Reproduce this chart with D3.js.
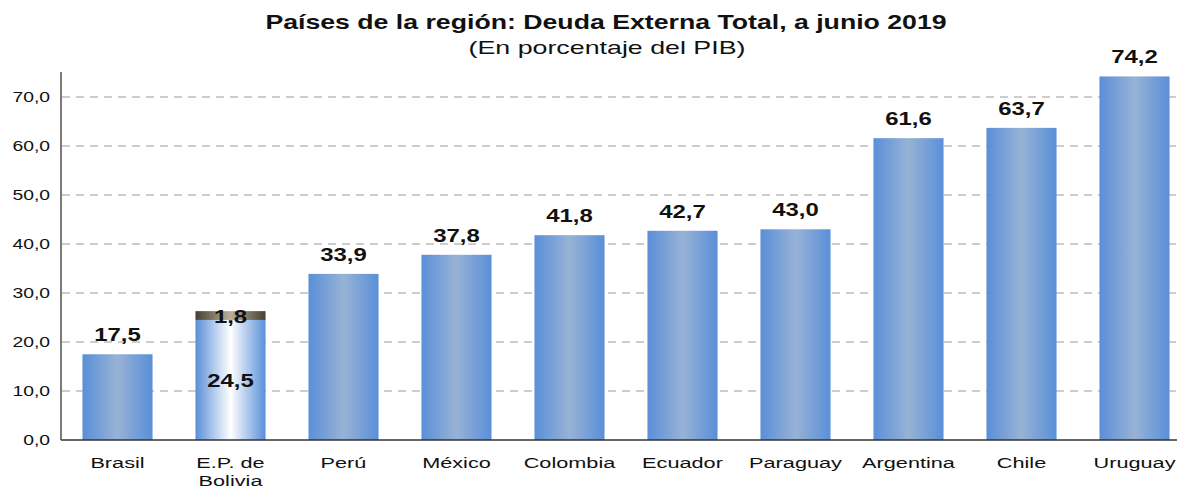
<!DOCTYPE html>
<html><head><meta charset="utf-8">
<script src="https://cdn.jsdelivr.net/npm/d3@7"></script>
<style>body{margin:0;background:#fff;} svg{display:block;font-family:"Liberation Sans",Arial,sans-serif;}</style>
</head><body><svg id="c" width="1177" height="488"></svg>
<script>
const categories = ["Brasil","E.P. de Bolivia","Perú","México","Colombia","Ecuador","Paraguay","Argentina","Chile","Uruguay"];
const values = [17.5,24.5,33.9,37.8,41.8,42.7,43.0,61.6,63.7,74.2];
const extraValues = [0,1.8,0,0,0,0,0,0,0,0];
const yTicks = [0,10,20,30,40,50,60,70];
const title = "Países de la región: Deuda Externa Total, a junio 2019";
const subtitle = "(En porcentaje del PIB)";

const svg = d3.select("#c");
const x = d3.scaleBand().domain(categories).range([61,1191]).paddingInner(0.38).paddingOuter(0.19);
const y = d3.scaleLinear().domain([0,75]).range([440,72.5]);
const fmt = v => d3.format(".1f")(v).replace(".",",");

const defs = svg.append("defs");
function grad(id, stops){
  const g = defs.append("linearGradient").attr("id",id).attr("x1","0%").attr("x2","100%").attr("y1","0%").attr("y2","0%");
  stops.forEach(s=>g.append("stop").attr("offset",s[0]).attr("stop-color",s[1]));
}
grad("gBlue",[["0%","#5a8fd8"],["50%","#98b2d6"],["100%","#5a8fd8"]]);
grad("gWhite",[["0%","#5a8fd8"],["50%","#ffffff"],["100%","#5a8fd8"]]);
grad("gDark",[["0%","#45402f"],["50%","#b8b09a"],["100%","#45402f"]]);

// stretched text helper
function txt(g, x0, y0, s, opt){
  const t = g.append("text").attr("transform",`translate(${x0},${y0}) scale(${opt.sx||1},1)`)
    .attr("text-anchor",opt.anchor||"middle").attr("font-size",opt.size).attr("fill","#111")
    .attr("font-weight",opt.bold?"bold":"normal").text(s);
  return t;
}

// grid
svg.append("g").selectAll("line").data(yTicks.filter(d=>d>0)).join("line")
  .attr("x1",62).attr("x2",1177).attr("y1",d=>y(d)).attr("y2",d=>y(d))
  .attr("stroke","#bdbdbd").attr("stroke-width",1.3).attr("stroke-dasharray","8,6");

// y tick labels
const yg = svg.append("g");
yTicks.forEach(v=>txt(yg, 50, y(v)+5, fmt(v), {size:14, sx:1.38, anchor:"end"}));

// bars
svg.append("g").selectAll("rect").data(categories).join("rect")
  .attr("x",d=>x(d)).attr("width",x.bandwidth())
  .attr("y",(d,i)=>y(values[i])).attr("height",(d,i)=>y(0)-y(values[i]))
  .attr("fill",(d,i)=>extraValues[i]>0?"url(#gWhite)":"url(#gBlue)");
svg.append("g").selectAll("rect").data(categories.filter((d,i)=>extraValues[i]>0)).join("rect")
  .attr("x",d=>x(d)).attr("width",x.bandwidth())
  .attr("y",d=>{const i=categories.indexOf(d);return y(values[i]+extraValues[i]);})
  .attr("height",d=>{const i=categories.indexOf(d);return y(values[i])-y(values[i]+extraValues[i]);})
  .attr("fill","url(#gDark)");

// axes lines
svg.append("line").attr("x1",61).attr("x2",61).attr("y1",72).attr("y2",440).attr("stroke","#333").attr("stroke-width",1.3);
svg.append("line").attr("x1",61).attr("x2",1177).attr("y1",440).attr("y2",440).attr("stroke","#333").attr("stroke-width",1.3);

// value labels
const lab = svg.append("g");
const vOpt = {size:18, sx:1.33, bold:true};
categories.forEach((c,i)=>{
  const cx = x(c)+x.bandwidth()/2;
  if(extraValues[i]>0){
    txt(lab, cx, y(values[i]+extraValues[i]/2)+7, fmt(extraValues[i]), vOpt);
    txt(lab, cx, y(values[i]/2)+7, fmt(values[i]), vOpt);
  } else {
    txt(lab, cx, y(values[i])-13, fmt(values[i]), vOpt);
  }
});

// x labels
const xl = svg.append("g");
const xOpt = {size:15.5, sx:1.4};
categories.forEach(c=>{
  const cx = x(c)+x.bandwidth()/2;
  if(c==="E.P. de Bolivia"){
    txt(xl, cx, 468, "E.P. de", xOpt);
    txt(xl, cx, 486, "Bolivia", xOpt);
  } else txt(xl, cx, 468, c, xOpt);
});

// titles
txt(svg, 606, 29, title, {size:21, sx:1.27, bold:true});
txt(svg, 607, 54, subtitle, {size:19, sx:1.41});
</script></body></html>
